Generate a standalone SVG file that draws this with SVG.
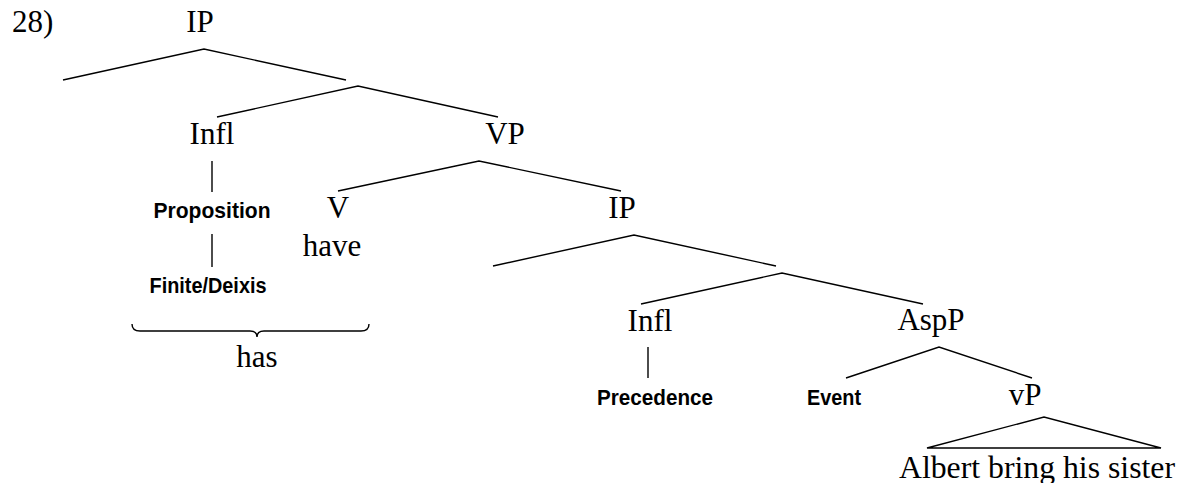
<svg xmlns="http://www.w3.org/2000/svg" width="1181" height="483" viewBox="0 0 1181 483">
  <style>
    .cat { font-family: "Liberation Serif", "Times New Roman", serif; font-size: 31px; fill: #000; text-anchor: middle; }
    .feat { font-family: "Liberation Sans", Arial, sans-serif; font-size: 22px; font-weight: bold; fill: #000; text-anchor: middle; }
    .edge { stroke: #000; stroke-width: 1.4; fill: none; stroke-linecap: butt; }
  </style>
  <rect width="1181" height="483" fill="#fff"/>

  <!-- example number -->
  <text class="cat" x="12" y="32" style="text-anchor:start">28)</text>

  <!-- tree nodes -->
  <g id="ip-top"><text class="cat" x="200" y="32">IP</text></g>
  <g id="infl-1"><text class="cat" x="212" y="144">Infl</text></g>
  <g id="proposition"><text class="feat" x="212" y="218" textLength="117" lengthAdjust="spacingAndGlyphs">Proposition</text></g>
  <g id="finite-deixis"><text class="feat" x="208" y="293" textLength="117" lengthAdjust="spacingAndGlyphs">Finite/Deixis</text></g>
  <g id="has"><text class="cat" x="257" y="367">has</text></g>
  <g id="vp"><text class="cat" x="505" y="144">VP</text></g>
  <g id="v"><text class="cat" x="338" y="218">V</text><text class="cat" x="332" y="256">have</text></g>
  <g id="ip-low"><text class="cat" x="622" y="218">IP</text></g>
  <g id="infl-2"><text class="cat" x="650" y="331">Infl</text></g>
  <g id="precedence"><text class="feat" x="655" y="405" textLength="116" lengthAdjust="spacingAndGlyphs">Precedence</text></g>
  <g id="aspp"><text class="cat" x="931" y="330">AspP</text></g>
  <g id="event"><text class="feat" x="834" y="405" textLength="54" lengthAdjust="spacingAndGlyphs">Event</text></g>
  <g id="vp-small"><text class="cat" x="1025" y="405">vP</text></g>
  <g id="vp-content"><text class="cat" x="1037" y="478" textLength="276" lengthAdjust="spacingAndGlyphs">Albert bring his sister</text></g>

  <!-- branches -->
  <g id="connectors" class="edge">
    <polyline class="edge" points="63,80 204,49 346,80"/>
    <polyline class="edge" points="217,117 358,86 498,117"/>
    <line class="edge" x1="212" y1="161" x2="212" y2="192"/>
    <line class="edge" x1="212" y1="234" x2="212" y2="267"/>
    <path class="edge" d="M132,324 Q132,331 140,331 L250,331 Q257,331 257,337 Q257,331 264,331 L361,331 Q369,331 369,324"/>
    <polyline class="edge" points="338,191 479,161 621,191"/>
    <polyline class="edge" points="493,266 634,235 776,266"/>
    <polyline class="edge" points="641,304 782,273 923,304"/>
    <line class="edge" x1="648" y1="347" x2="648" y2="378"/>
    <polyline class="edge" points="846,378 939,347 1032,378"/>
    <polygon class="edge" points="927,448 1044,417 1161,448"/>
  </g>
</svg>
